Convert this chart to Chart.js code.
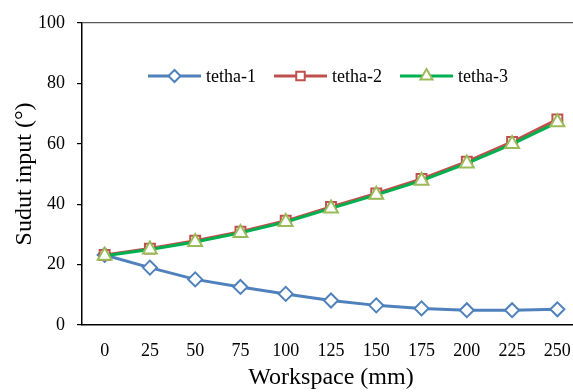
<!DOCTYPE html>
<html>
<head>
<meta charset="utf-8">
<script src="https://cdn.jsdelivr.net/npm/chart.js@4"></script>
<style>
  html, body { margin: 0; padding: 0; background: #fff; overflow: hidden; }
  #wrap { position: relative; width: 590px; height: 392px; }
</style>
</head>
<body>
<div id="wrap"><canvas id="myChart"></canvas></div>
<script>
// workspace positions (mm)
const workspace = ["0", "25", "50", "75", "100", "125", "150", "175", "200", "225", "250"];

// input angles (degrees)
const tetha1 = [23.2, 19.0, 15.1, 12.6, 10.3, 8.1, 6.5, 5.5, 4.9, 4.9, 5.2];
const tetha2 = [23.2, 25.3, 27.9, 30.9, 34.5, 39.1, 43.6, 48.4, 54.1, 60.6, 68.1];
const tetha3 = [22.9, 25.0, 27.5, 30.5, 34.1, 38.6, 43.1, 47.8, 53.5, 59.9, 67.1];

const yTicks = [0, 20, 40, 60, 80, 100];

const serif = "'Liberation Serif', 'Times New Roman', serif";

// legend drawn inside the plot, Excel style
const legendPlugin = {
  id: 'inlineLegend',
  afterDatasetsDraw(chart) {
    const c = chart.ctx;
    const y = 76;
    const items = [{ ds: 0, x: 148 }, { ds: 1, x: 274 }, { ds: 2, x: 400 }];
    c.save();
    items.forEach(it => {
      const d = chart.data.datasets[it.ds];
      c.strokeStyle = d.borderColor;
      c.lineWidth = d.borderWidth;
      c.beginPath();
      c.moveTo(it.x, y);
      c.lineTo(it.x + 53, y);
      c.stroke();
      c.fillStyle = '#fff';
      c.strokeStyle = d.pointBorderColor;
      c.lineWidth = d.pointBorderWidth;
      Chart.helpers.drawPoint(c, {
        pointStyle: d.pointStyle,
        radius: d.pointRadius - 1,
        borderWidth: d.pointBorderWidth
      }, it.x + 26.5, y);
      c.fillStyle = '#000';
      c.font = "18px " + serif;
      c.textBaseline = 'middle';
      c.textAlign = 'left';
      c.fillText(d.label, it.x + 58, y + 1);
    });
    c.restore();
  }
};

var ctx = document.getElementById('myChart').getContext('2d');

var mychart = new Chart(ctx, {
  type: 'line',
  data: {
    labels: workspace,
    datasets: [{
      label: 'tetha-1',
      data: tetha1,
      borderColor: '#4F81BD',
      borderWidth: 3,
      pointStyle: 'rectRot',
      pointRadius: 7,
      pointBorderWidth: 2,
      pointBorderColor: '#4F81BD',
      pointBackgroundColor: '#fff',
      order: 2
    }, {
      label: 'tetha-2',
      data: tetha2,
      borderColor: '#C0504D',
      borderWidth: 3,
      pointStyle: 'rect',
      pointRadius: 7,
      pointBorderWidth: 2,
      pointBorderColor: '#C0504D',
      pointBackgroundColor: '#fff',
      order: 1
    }, {
      label: 'tetha-3',
      data: tetha3,
      borderColor: '#00B050',
      borderWidth: 3,
      pointStyle: 'triangle',
      pointRadius: 8,
      pointBorderWidth: 2,
      pointBorderColor: '#9BBB59',
      pointBackgroundColor: '#fff',
      order: 0
    }]
  },
  options: {
    responsive: true,
    maintainAspectRatio: false,
    animation: false,
    layout: {
      padding: { top: 23, right: 8, left: 0, bottom: 0 }
    },
    plugins: {
      legend: { display: false },
      tooltip: { enabled: false }
    },
    scales: {
      x: {
        offset: true,
        afterFit: s => { s.height = 67; },
        grid: { display: false, drawTicks: false },
        border: { display: true, color: '#000', width: 1.5 },
        ticks: {
          padding: 15,
          color: '#000',
          font: { family: serif, size: 18 }
        },
        title: {
          display: true,
          text: 'Workspace (mm)',
          color: '#000',
          font: { family: serif, size: 24 },
          padding: { top: 0, bottom: 0 }
        }
      },
      y: {
        min: 0,
        max: 100,
        afterFit: s => { s.width = 82; },
        afterBuildTicks: s => { s.ticks = yTicks.map(v => ({ value: v })); },
        grid: {
          color: c => c.tick && c.tick.value === 100 ? '#595959' : 'rgba(0,0,0,0)',
          tickColor: '#000',
          tickLength: 5,
          lineWidth: 1.2
        },
        border: { display: true, color: '#000', width: 1.5 },
        ticks: {
          padding: 12,
          color: '#000',
          font: { family: serif, size: 18 }
        },
        title: {
          display: true,
          text: 'Sudut input (°)',
          color: '#000',
          font: { family: serif, size: 24 },
          padding: { top: 10, bottom: 0 }
        }
      }
    }
  },
  plugins: [legendPlugin]
});
</script>
</body>
</html>
